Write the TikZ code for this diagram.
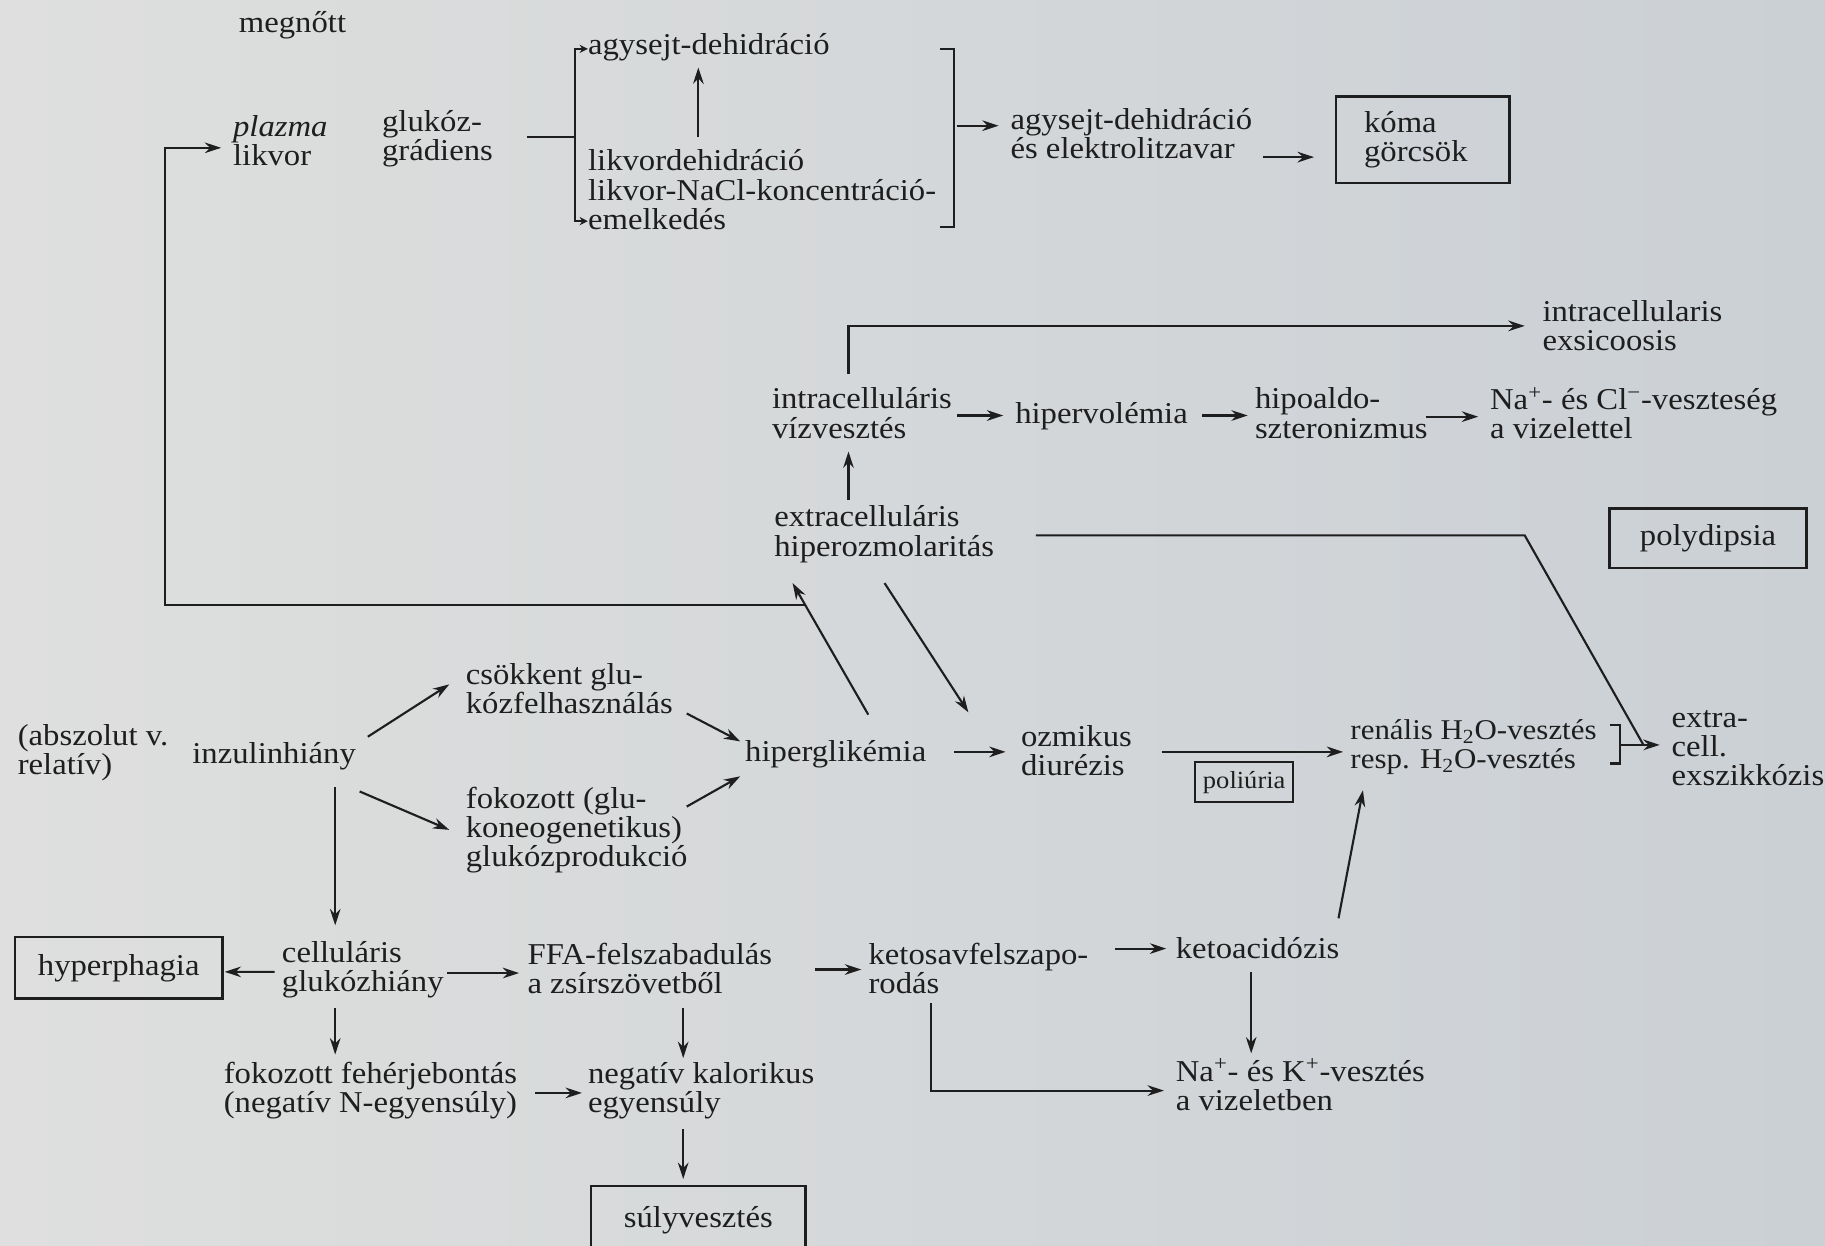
\documentclass[tikz,border=0pt]{standalone}
\usepackage{fontspec}
\setmainfont{Liberation Serif}[FakeStretch=1.08]
\usetikzlibrary{arrows.meta,calc}
\definecolor{ink}{HTML}{1E1E1E}
\definecolor{bgL}{HTML}{DEDFDE}
\definecolor{bgR}{HTML}{CBD0D5}
\begin{document}
\begin{tikzpicture}[x=0.025cm,y=-0.025cm,
  every node/.style={text=ink, font=\fontsize{18.5}{17.8}\selectfont},
  txt/.style={inner sep=0pt, anchor=west, align=left},
  box/.style={draw=ink, line width=1.5pt, inner sep=0pt, align=center},
  ln/.style={draw=ink, line width=1.3pt},
  arr/.style={ln, -{Stealth[length=10pt,width=6.5pt]}},
  tick/.style={ln, -{Stealth[length=5pt,width=5pt]}}]
\path[use as bounding box] (0,0) rectangle (1568,1070);
\clip (0,0) rectangle (1568,1070);
\shade[left color=bgL,right color=bgR] (0,0) rectangle (1568,1070);

% ---- nodes ----
\node[txt] (megn) at (205,22) {megnőtt};
\node[txt] (plz) at (200,121) {\textit{plazma}\\likvor};
\node[txt] (glk) at (328,119) {glukóz-\\grádiens};
\node[txt] (agy1) at (505,41) {agysejt-dehidráció};
\node[txt] (likv) at (505,163) {likvordehidráció\\likvor-NaCl-koncentráció-\\emelkedés};
\node[txt] (agy2) at (868,115) {agysejt-dehidráció\\és elektrolitzavar};
\node[draw=ink, line width=1.5pt, inner xsep=0.6cm, inner ysep=0pt, text width=2.525cm,
      minimum height=1.85cm, align=left] (koma) at (1222.5,120) {kóma\\görcsök};
\node[txt] (exs) at (1325,280) {intracellularis\\exsicoosis};
\node[txt] (intra) at (663,355) {intracelluláris\\vízvesztés};
\node[txt] (hipv) at (872,358) {hipervolémia};
\node[txt] (hipa) at (1078,355) {hipoaldo-\\szteronizmus};
\node[txt] (nacl) at (1280,355) {Na\textsuperscript{+}- és Cl\textsuperscript{−}-veszteség\\a vizelettel};
\node[txt] (extra) at (665,459) {extracelluláris\\hiperozmolaritás};
\node[box, minimum width=4.225cm, minimum height=1.275cm] (poly) at (1467.5,462.5) {polydipsia};
\node[txt] (abs) at (15,647) {(abszolut v.\\relatív)};
\node[txt] (inz) at (165,650) {inzulinhiány};
\node[txt] (csok) at (400,592) {csökkent glu-\\kózfelhasználás};
\node[txt] (fok) at (400,713) {fokozott (glu-\\koneogenetikus)\\glukózprodukció};
\node[txt] (hipg) at (640,648) {hiperglikémia};
\node[txt] (ozm) at (877,645) {ozmikus\\diurézis};
\node[box, line width=1.3pt, minimum width=2.1cm, minimum height=0.85cm,
      font=\fontsize{15}{16}\selectfont] (pol) at (1069,672) {poliúria};
\node[txt, font=\fontsize{17.5}{17.8}\selectfont] (ren) at (1160,642) {renális H\textsubscript{2}O-vesztés\\resp. H\textsubscript{2}O-vesztés};
\node[txt] (ecell) at (1436,643) {extra-\\cell.\\exszikkózis};
\node[box, minimum width=4.45cm, minimum height=1.325cm] (hyp) at (102,831.5) {hyperphagia};
\node[txt] (cell) at (242,833) {celluláris\\glukózhiány};
\node[txt] (ffa) at (453,832) {FFA-felszabadulás\\a zsírszövetből};
\node[txt] (keto) at (746,832) {ketosavfelszapo-\\rodás};
\node[txt] (ketoa) at (1010,815) {ketoacidózis};
\node[txt] (nak) at (1010,932) {Na\textsuperscript{+}- és K\textsuperscript{+}-vesztés\\a vizeletben};
\node[txt] (feh) at (192,937) {fokozott fehérjebontás\\(negatív N-egyensúly)};
\node[txt] (neg) at (505,937) {negatív kalorikus\\egyensúly};
\node[box, minimum width=4.6cm, minimum height=1.45cm] (suly) at (600,1048) {súlyvesztés};

% ---- helper coordinates ----
\coordinate (bl) at (494,118);
\coordinate (brR) at (820,108);
\coordinate (bend) at (1310,460);
\coordinate (rb) at (1392,640);

% ---- top block ----
\draw[ln] ($(glk.west)+(125,-1)$) -- (bl);
\draw[tick] (bl) |- ($(agy1.west)+(0,1)$);
\draw[tick] (bl) |- ($(likv.west)+(0,27)$);
\draw[arr] ($(likv.west)+(95,-45)$) -- ($(agy1.west)+(95,17)$);
\draw[ln] ($(brR)+(-12,-66)$) -| (brR) |- ($(brR)+(-12,87)$);
\draw[arr] ($(brR)+(2,0)$) -- ($(agy2.west)+(-10,-7)$);
\draw[arr] ($(agy2.west)+(217,20)$) -- ($(koma.west)+(-18,15)$);

% ---- hyperglycaemia feedback ----
\draw[arr] ($(hipg.west)+(106,-34)$) -- coordinate[pos=0.832] (fb) ($(extra.west)+(16,42)$);
\draw[arr] (fb) -| ($(plz.west)+(-58,6)$) -- ($(plz.west)+(-10,6)$);

% ---- middle block ----
\draw[arr] ($(intra.west)+(66,-34)$) |- ($(exs.west)+(-15,0)$);
\draw[arr] ($(intra.west)+(159,2)$) -- ($(hipv.west)+(-10,-1)$);
\draw[arr] ($(hipv.west)+(161,-1)$) -- ($(hipa.west)+(-6,2)$);
\draw[arr] ($(hipa.west)+(147,3)$) -- ($(nacl.west)+(-10,3)$);
\draw[arr] ($(extra.west)+(64,-29)$) -- ($(intra.west)+(66,33)$);
\draw[ln] ($(extra.west)+(225,1)$) -- (bend) -- ($(ecell.west)+(-24,-3)$);
\draw[ln] ($(rb)+(-9,-17)$) -| (rb) |- ($(rb)+(-9,16)$);
\draw[arr] (rb) -- ($(ecell.west)+(-10,-3)$);

% ---- insulin block ----
\draw[arr] ($(inz.west)+(151,-17)$) -- ($(csok.west)+(-14,-4)$);
\draw[arr] ($(inz.west)+(144,30)$) -- ($(fok.west)+(-14,0)$);
\draw[arr] ($(csok.west)+(190,21)$) -- ($(hipg.west)+(-4,-11)$);
\draw[arr] ($(fok.west)+(190,-20)$) -- ($(hipg.west)+(-4,19)$);
\draw[arr] ($(extra.west)+(95,42)$) -- ($(ozm.west)+(-45,-33)$);
\draw[arr] ($(hipg.west)+(180,-2)$) -- ($(ozm.west)+(-13,1)$);
\draw[arr] ($(ozm.west)+(121,1)$) -- ($(ren.west)+(-6,4)$);
\draw[arr] ($(ketoa.west)+(140,-26)$) -- ($(ren.west)+(11,37)$);

% ---- lower block ----
\draw[arr] ($(inz.west)+(123,26)$) -- ($(cell.west)+(46,-38)$);
\draw[arr] ($(cell.west)+(-6,2)$) -- ($(hyp.east)+(1,3.5)$);
\draw[arr] ($(cell.west)+(142,3)$) -- ($(ffa.west)+(-7,4)$);
\draw[arr] ($(ffa.west)+(247,1)$) -- ($(keto.west)+(-6,1)$);
\draw[arr] ($(keto.west)+(212,-17)$) -- ($(ketoa.west)+(-8,0)$);
\draw[arr] ($(ketoa.west)+(65,20)$) -- ($(nak.west)+(65,-27)$);
\draw[arr] ($(keto.west)+(54,30)$) |- ($(nak.west)+(-10,5)$);
\draw[arr] ($(cell.west)+(46,33)$) -- ($(feh.west)+(96,-31)$);
\draw[arr] ($(feh.west)+(268,2)$) -- ($(neg.west)+(-5,2)$);
\draw[arr] ($(ffa.west)+(134,34)$) -- ($(neg.west)+(82,-28)$);
\draw[arr] ($(neg.west)+(82,33)$) -- ($(suly.north)+(-13,-5)$);
\end{tikzpicture}
\end{document}
